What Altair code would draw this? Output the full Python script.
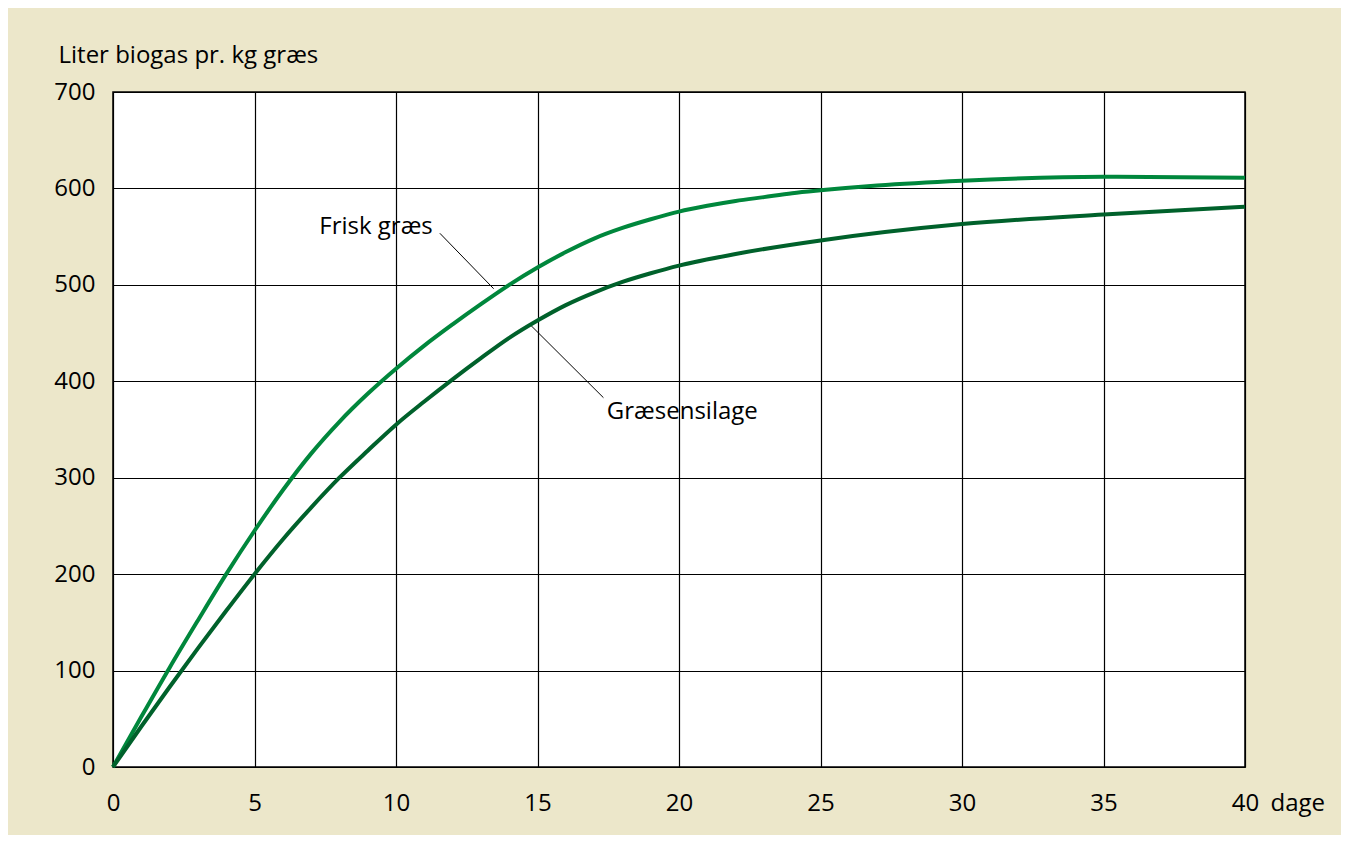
import altair as alt
import pandas as pd

# ---- data ----
days_frisk = [0, 1, 2, 3, 4, 5, 6, 7, 8, 9, 10, 11, 12, 13, 14, 15, 16, 17, 18, 19, 20,
              21, 22, 23, 24, 25, 27, 30, 35, 40]
vals_frisk = [0, 52, 103, 152, 200, 245, 287, 325, 358, 387, 413, 437, 459, 480, 500, 518,
              534, 548, 559, 568, 576, 582, 587, 591, 595, 598, 603, 608, 612, 611]

days_silage = [0, 1, 2, 3, 4, 5, 6, 7, 8, 9, 10, 11, 12, 13, 14, 15, 16, 17, 18, 19, 20,
               22, 25, 30, 35, 40]
vals_silage = [0, 42, 83, 123, 162, 200, 236, 269, 300, 328, 355, 379, 402, 424, 445, 463,
               479, 492, 503, 512, 520, 532, 546, 563, 573, 581]

series_names = ["Frisk græs", "Græsensilage"]
series_colors = ["#00873C", "#00612B"]

# annotation labels and leader lines (data coordinates)
label_text = ["Frisk græs", "Græsensilage"]
label_x = [11.3, 17.45]
label_y = [553, 361]
label_align = ["right", "left"]
leader_x = [11.55, 14.73]
leader_y = [553.5, 459]
leader_x2 = [13.45, 17.33]
leader_y2 = [496, 383]

FONT = "Open Sans"
FS = 24

df = pd.concat([
    pd.DataFrame({"dag": days_frisk, "liter": vals_frisk, "serie": series_names[0]}),
    pd.DataFrame({"dag": days_silage, "liter": vals_silage, "serie": series_names[1]}),
])

labels_df = pd.DataFrame({"t": label_text, "x": label_x, "y": label_y, "a": label_align})
leaders_df = pd.DataFrame({"x": leader_x, "y": leader_y, "x2": leader_x2, "y2": leader_y2})

xscale = alt.Scale(domain=[0, 40], nice=False, zero=True)
yscale = alt.Scale(domain=[0, 700], nice=False)

lines = alt.Chart(df).mark_line(strokeWidth=4, interpolate="monotone").encode(
    x=alt.X("dag:Q", scale=xscale, axis=alt.Axis(
        values=list(range(0, 41, 5)), title="dage", grid=True, gridColor="#000000",
        gridWidth=1.2, ticks=False, tickSize=0, domain=False, labelPadding=43,
        labelBaseline="alphabetic",
        labelFont=FONT, labelFontSize=FS, labelColor="#000000", labelFlush=False,
        titleFont=FONT, titleFontSize=FS, titleFontWeight="normal", titleColor="#000000",
        titleX=1157, titleY=43, titleAlign="left", titleBaseline="alphabetic", titleAnchor="start",
    )),
    y=alt.Y("liter:Q", scale=yscale, axis=alt.Axis(
        values=list(range(0, 701, 100)), title="Liter biogas pr. kg græs", grid=True,
        gridColor="#000000", gridWidth=1.2, ticks=False, tickSize=0, domain=False,
        labelPadding=18, labelFont=FONT, labelFontSize=FS, labelColor="#000000",
        labelFlush=False, labelBaseline="middle",
        titleFont=FONT, titleFontSize=FS, titleFontWeight="normal", titleColor="#000000",
        titleAngle=0, titleX=-55, titleY=-30, titleAlign="left", titleBaseline="alphabetic",
        titleAnchor="start",
    )),
    color=alt.Color("serie:N", scale=alt.Scale(domain=series_names, range=series_colors), legend=None),
)

leaders = alt.Chart(leaders_df).mark_rule(color="#000000", strokeWidth=1).encode(
    x=alt.X("x:Q", scale=xscale), y=alt.Y("y:Q", scale=yscale),
    x2="x2:Q", y2="y2:Q",
)

texts_r = alt.Chart(labels_df[labels_df.a == "right"]).mark_text(
    align="right", baseline="alphabetic", font=FONT, fontSize=FS, color="#000000"
).encode(x=alt.X("x:Q", scale=xscale), y=alt.Y("y:Q", scale=yscale), text="t:N")

texts_l = alt.Chart(labels_df[labels_df.a == "left"]).mark_text(
    align="left", baseline="alphabetic", font=FONT, fontSize=FS, color="#000000"
).encode(x=alt.X("x:Q", scale=xscale), y=alt.Y("y:Q", scale=yscale), text="t:N")

chart = alt.layer(leaders, lines, texts_r, texts_l).properties(
    width=1132, height=675,
    background="#ECE7CA",
    padding={"left": 105, "top": 84, "right": 96, "bottom": 68},
    autosize=alt.AutoSizeParams(type="none"),
).configure_view(
    fill="#FFFFFF", stroke="#000000", strokeWidth=1.5
)

chart.save("out.html", embed_options={"renderer": "svg", "actions": False})
